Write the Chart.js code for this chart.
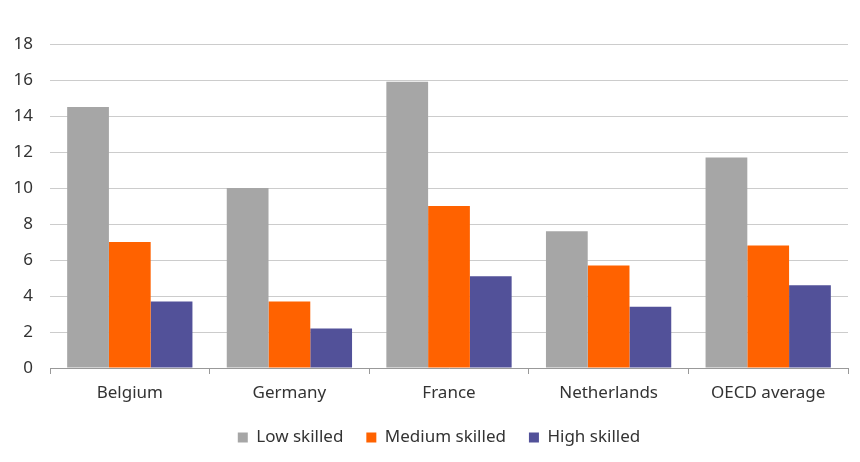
<!DOCTYPE html>
<html>
<head>
<meta charset="utf-8">
<script src="https://cdn.jsdelivr.net/npm/chart.js@4/dist/chart.umd.min.js"></script>
<style>
  html, body { margin: 0; padding: 0; background: #fff; }
  #wrap { width: 860px; height: 462px; }
</style>
</head>
<body>
<div id="wrap"><canvas id="c" width="860" height="462"></canvas></div>
<script>
// Unemployment rate by skill level
const categories = ['Belgium', 'Germany', 'France', 'Netherlands', 'OECD average'];
const lowSkilled = [14.5, 10.0, 15.9, 7.6, 11.7];
const mediumSkilled = [7.0, 3.7, 9.0, 5.7, 6.8];
const highSkilled = [3.7, 2.2, 5.1, 3.4, 4.6];
const seriesNames = ['Low skilled', 'Medium skilled', 'High skilled'];
const yTicks = [0, 2, 4, 6, 8, 10, 12, 14, 16, 18];

const FONT = "'Noto Sans', 'Open Sans', sans-serif";
const TEXT = '#333333';

// Center the legend under the plot area rather than the whole canvas
const centerLegendOnPlot = {
  id: 'centerLegendOnPlot',
  afterLayout(chart) {
    const lg = chart.legend;
    if (!lg) return;
    const w = lg.right - lg.left;
    const mid = (chart.chartArea.left + chart.chartArea.right) / 2 - 10;
    lg.left = mid - w / 2;
    lg.right = mid + w / 2;
    if (lg.adjustHitBoxes) lg.adjustHitBoxes();
  }
};

new Chart(document.getElementById('c'), {
  type: 'bar',
  data: {
    labels: categories,
    datasets: [
      { label: seriesNames[0], data: lowSkilled, backgroundColor: '#A6A6A6' },
      { label: seriesNames[1], data: mediumSkilled, backgroundColor: '#FF6200' },
      { label: seriesNames[2], data: highSkilled, backgroundColor: '#525199' }
    ]
  },
  plugins: [centerLegendOnPlot],
  options: {
    responsive: false,
    animation: false,
    devicePixelRatio: 1,
    layout: { padding: { top: 44, right: 12, left: 0, bottom: 6 } },
    datasets: { bar: { barPercentage: 1, categoryPercentage: 0.785 } },
    plugins: {
      tooltip: { enabled: false },
      legend: {
        position: 'bottom',
        labels: {
          color: TEXT,
          font: { family: FONT, size: 17 },
          boxWidth: 10,
          boxHeight: 10,
          padding: 23
        }
      }
    },
    scales: {
      x: {
        grid: { display: true, drawOnChartArea: false, drawTicks: true, tickLength: 6, offset: true, color: '#999' },
        border: { display: true, color: '#999', width: 1 },
        ticks: { color: TEXT, font: { family: FONT, size: 17 }, padding: 9 },
        afterFit: (s) => { s.height = 38; }
      },
      y: {
        min: 0,
        max: 18,
        afterBuildTicks: (s) => { s.ticks = yTicks.map(v => ({ value: v })); },
        grid: { color: '#CCCCCC', drawTicks: false },
        border: { display: false },
        ticks: { color: TEXT, font: { family: FONT, size: 17 }, padding: 17 },
        afterFit: (s) => { s.width = 50; }
      }
    }
  }
});
</script>
</body>
</html>
